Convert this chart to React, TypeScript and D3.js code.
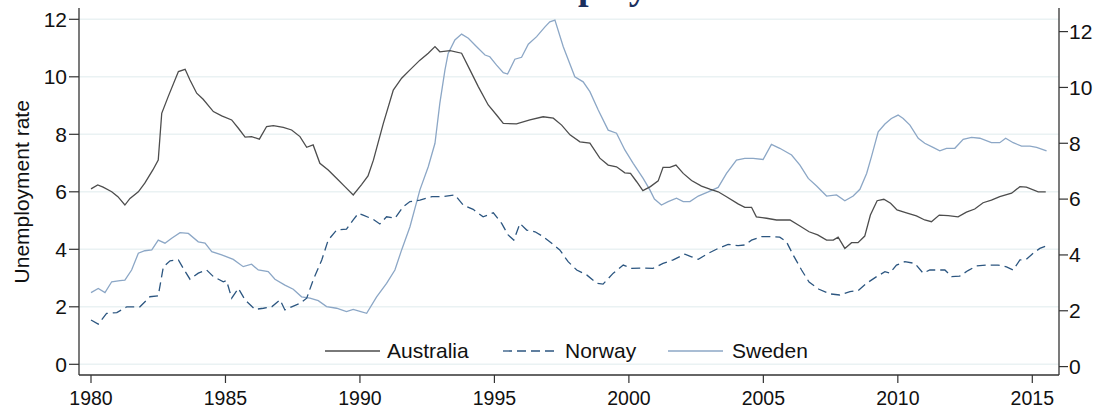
import React from "react";
import * as d3 from "d3";

// [year, unemployment rate]
const australia: [number, number][] = [
  [1980.0, 6.1], [1980.25, 6.24], [1980.45, 6.16], [1980.77, 6.0], [1981.0, 5.83], [1981.26, 5.54],
  [1981.45, 5.77], [1981.76, 6.0], [1982.0, 6.3], [1982.3, 6.76], [1982.5, 7.1], [1982.63, 8.73],
  [1982.87, 9.31], [1983.25, 10.18], [1983.5, 10.26], [1983.68, 9.89], [1983.93, 9.43], [1984.17, 9.22],
  [1984.55, 8.79], [1984.86, 8.64], [1985.23, 8.5], [1985.48, 8.21], [1985.73, 7.9], [1985.97, 7.92],
  [1986.26, 7.83], [1986.53, 8.27], [1986.78, 8.3], [1987.15, 8.24], [1987.46, 8.15], [1987.77, 7.92],
  [1988.02, 7.55], [1988.26, 7.63], [1988.51, 6.99], [1988.82, 6.76], [1989.13, 6.47], [1989.44, 6.18],
  [1989.75, 5.89], [1990.06, 6.25], [1990.3, 6.55], [1990.5, 7.1], [1990.87, 8.38], [1991.24, 9.54],
  [1991.55, 9.95], [1991.86, 10.24], [1992.23, 10.58], [1992.54, 10.82], [1992.79, 11.05], [1992.97, 10.87],
  [1993.35, 10.91], [1993.78, 10.82], [1994.09, 10.24], [1994.4, 9.66], [1994.77, 9.02], [1995.08, 8.67],
  [1995.33, 8.38], [1995.82, 8.36], [1996.32, 8.5], [1996.81, 8.61], [1997.19, 8.56], [1997.5, 8.32],
  [1997.81, 7.98], [1998.18, 7.74], [1998.55, 7.69], [1998.92, 7.17], [1999.23, 6.93], [1999.54, 6.87],
  [1999.85, 6.66], [2000.06, 6.64], [2000.29, 6.35], [2000.52, 6.04], [2000.8, 6.18], [2001.09, 6.38],
  [2001.27, 6.85], [2001.52, 6.85], [2001.75, 6.93], [2002.02, 6.64], [2002.33, 6.39], [2002.7, 6.2],
  [2003.01, 6.09], [2003.32, 6.0], [2003.63, 5.83], [2004.06, 5.58], [2004.31, 5.46], [2004.56, 5.46],
  [2004.74, 5.13], [2005.12, 5.08], [2005.49, 5.02], [2005.99, 5.02], [2006.36, 4.81], [2006.7, 4.61],
  [2007.02, 4.5], [2007.35, 4.32], [2007.6, 4.32], [2007.78, 4.42], [2008.03, 4.03], [2008.28, 4.23],
  [2008.52, 4.23], [2008.77, 4.46], [2008.98, 5.19], [2009.23, 5.69], [2009.48, 5.74], [2009.73, 5.6],
  [2009.97, 5.37], [2010.32, 5.27], [2010.69, 5.16], [2011.0, 5.02], [2011.25, 4.96], [2011.54, 5.19],
  [2011.87, 5.17], [2012.24, 5.13], [2012.55, 5.29], [2012.86, 5.4], [2013.17, 5.62], [2013.48, 5.71],
  [2013.79, 5.83], [2014.23, 5.95], [2014.54, 6.18], [2014.78, 6.16], [2015.22, 6.0], [2015.5, 6.0],
];

const norway: [number, number][] = [
  [1980.0, 1.54], [1980.27, 1.4], [1980.58, 1.77], [1980.96, 1.8], [1981.33, 2.0], [1981.82, 2.0],
  [1982.19, 2.35], [1982.5, 2.38], [1982.69, 3.39], [1982.94, 3.6], [1983.25, 3.63], [1983.43, 3.34],
  [1983.68, 2.96], [1983.99, 3.17], [1984.3, 3.28], [1984.55, 3.05], [1984.92, 2.87], [1985.04, 2.91],
  [1985.23, 2.3], [1985.48, 2.64], [1985.73, 2.24], [1986.1, 1.91], [1986.41, 1.95], [1986.72, 2.0],
  [1987.03, 2.24], [1987.21, 1.89], [1987.46, 2.0], [1987.77, 2.12], [1988.02, 2.3], [1988.26, 2.93],
  [1988.58, 3.63], [1988.82, 4.32], [1989.13, 4.67], [1989.5, 4.7], [1989.75, 5.02], [1989.94, 5.25],
  [1990.12, 5.19], [1990.5, 5.04], [1990.74, 4.88], [1990.99, 5.13], [1991.3, 5.08], [1991.61, 5.48],
  [1991.86, 5.66], [1992.23, 5.71], [1992.67, 5.83], [1993.04, 5.83], [1993.53, 5.89], [1993.84, 5.54],
  [1994.21, 5.39], [1994.58, 5.13], [1994.96, 5.27], [1995.27, 4.9], [1995.51, 4.5], [1995.72, 4.32],
  [1995.95, 4.9], [1996.2, 4.67], [1996.51, 4.61], [1996.81, 4.44], [1997.13, 4.21], [1997.43, 3.98],
  [1997.74, 3.57], [1998.06, 3.28], [1998.43, 3.11], [1998.8, 2.82], [1999.04, 2.79], [1999.42, 3.17],
  [1999.79, 3.45], [2000.1, 3.34], [2000.53, 3.35], [2000.9, 3.34], [2001.27, 3.51], [2001.65, 3.63],
  [2002.08, 3.83], [2002.33, 3.74], [2002.58, 3.65], [2002.95, 3.86], [2003.32, 4.03], [2003.69, 4.17],
  [2004.06, 4.13], [2004.31, 4.15], [2004.56, 4.32], [2004.93, 4.44], [2005.3, 4.44], [2005.61, 4.42],
  [2005.86, 4.26], [2006.11, 3.8], [2006.42, 3.28], [2006.7, 2.86], [2007.07, 2.61], [2007.47, 2.45],
  [2007.84, 2.41], [2008.22, 2.53], [2008.52, 2.56], [2008.84, 2.82], [2009.21, 3.05], [2009.52, 3.22],
  [2009.7, 3.17], [2009.95, 3.45], [2010.26, 3.57], [2010.63, 3.51], [2010.94, 3.17], [2011.19, 3.28],
  [2011.44, 3.28], [2011.75, 3.28], [2012.0, 3.05], [2012.3, 3.07], [2012.61, 3.26], [2012.93, 3.42],
  [2013.3, 3.45], [2013.73, 3.45], [2014.04, 3.39], [2014.29, 3.28], [2014.54, 3.63], [2014.78, 3.65],
  [2015.03, 3.86], [2015.28, 4.03], [2015.5, 4.11],
];

// Sweden is plotted against the right-hand axis
const sweden: [number, number][] = [
  [1980.0, 2.65], [1980.27, 2.8], [1980.52, 2.65], [1980.77, 3.04], [1981.08, 3.08], [1981.26, 3.1],
  [1981.51, 3.46], [1981.76, 4.06], [1982.0, 4.15], [1982.26, 4.18], [1982.5, 4.53], [1982.75, 4.42],
  [1983.0, 4.6], [1983.31, 4.8], [1983.62, 4.77], [1983.99, 4.47], [1984.24, 4.42], [1984.49, 4.12],
  [1984.86, 4.0], [1985.29, 3.84], [1985.66, 3.58], [1985.97, 3.67], [1986.22, 3.46], [1986.59, 3.4],
  [1986.84, 3.13], [1987.21, 2.92], [1987.52, 2.77], [1987.83, 2.5], [1988.14, 2.45], [1988.45, 2.36],
  [1988.76, 2.15], [1989.13, 2.09], [1989.5, 1.97], [1989.75, 2.05], [1990.0, 1.98], [1990.25, 1.91],
  [1990.62, 2.5], [1990.99, 2.98], [1991.3, 3.46], [1991.55, 4.18], [1991.86, 5.01], [1992.23, 6.33],
  [1992.54, 7.16], [1992.79, 8.0], [1992.97, 9.43], [1993.16, 10.62], [1993.28, 11.22], [1993.53, 11.7],
  [1993.78, 11.91], [1994.03, 11.76], [1994.34, 11.46], [1994.65, 11.16], [1994.83, 11.1], [1995.08, 10.8],
  [1995.33, 10.53], [1995.49, 10.48], [1995.76, 11.01], [1996.01, 11.08], [1996.26, 11.55], [1996.57, 11.82],
  [1996.88, 12.17], [1997.06, 12.35], [1997.25, 12.41], [1997.56, 11.46], [1997.99, 10.38], [1998.3, 10.2],
  [1998.55, 9.85], [1998.86, 9.19], [1999.23, 8.47], [1999.54, 8.36], [1999.85, 7.76], [2000.16, 7.28],
  [2000.53, 6.74], [2000.78, 6.33], [2000.95, 6.0], [2001.21, 5.79], [2001.46, 5.91], [2001.77, 6.03],
  [2002.02, 5.91], [2002.27, 5.91], [2002.58, 6.11], [2002.95, 6.26], [2003.32, 6.42], [2003.63, 6.92],
  [2004.0, 7.4], [2004.31, 7.46], [2004.62, 7.46], [2004.99, 7.42], [2005.3, 7.96], [2005.61, 7.82],
  [2006.05, 7.58], [2006.36, 7.22], [2006.67, 6.74], [2006.98, 6.47], [2007.35, 6.11], [2007.72, 6.15],
  [2008.03, 5.94], [2008.34, 6.11], [2008.59, 6.35], [2008.84, 6.92], [2009.02, 7.52], [2009.27, 8.41],
  [2009.52, 8.69], [2009.76, 8.89], [2010.01, 9.01], [2010.2, 8.89], [2010.45, 8.65], [2010.76, 8.18],
  [2011.0, 8.0], [2011.31, 7.85], [2011.56, 7.73], [2011.81, 7.82], [2012.12, 7.82], [2012.43, 8.14],
  [2012.74, 8.21], [2013.05, 8.18], [2013.48, 8.02], [2013.79, 8.02], [2014.01, 8.18], [2014.29, 8.02],
  [2014.6, 7.9], [2014.91, 7.9], [2015.16, 7.85], [2015.53, 7.73],
];

const xTicks = [1980, 1985, 1990, 1995, 2000, 2005, 2010, 2015];
const yTicks = [0, 2, 4, 6, 8, 10, 12];
const legendLabels = ["Australia", "Norway", "Sweden"];

const W = 1100;
const H = 408;
const plot = { left: 79, right: 1059, top: 8, bottom: 375 };

const x = d3.scaleLinear().domain([1980, 2015]).range([91, 1032.3]);
const yL = d3.scaleLinear().domain([0, 12]).range([364.3, 19.3]);
const yR = d3.scaleLinear().domain([0, 12]).range([366.6, 31.6]);

const lineL = d3.line<[number, number]>().x((d) => x(d[0])).y((d) => yL(d[1]));
const lineR = d3.line<[number, number]>().x((d) => x(d[0])).y((d) => yR(d[1]));

const colors = { aus: "#4d4d4d", nor: "#2c5680", swe: "#8ca7c6" };
const FONT = "'Liberation Sans', Arial, Helvetica, sans-serif";

export default function App() {
  const legend = [
    { label: legendLabels[0], color: colors.aus, dash: undefined, x0: 325, tx: 387 },
    { label: legendLabels[1], color: colors.nor, dash: "9,5", x0: 503, tx: 565 },
    { label: legendLabels[2], color: colors.swe, dash: undefined, x0: 668, tx: 732 },
  ];
  return (
    <div style={{ position: "absolute", left: 0, top: 0 }}>
      <svg width={W} height={H} style={{ display: "block", background: "#fff" }}>
        {/* title (cut off at the top in the original) */}
        <text x={481} y={-1} fontFamily="'Liberation Serif', 'Times New Roman', serif" fontWeight="bold"
          fontSize={38} fill="#1b2f5e">Unemployment</text>

        {/* gridlines */}
        {yTicks.map((t) => (
          <line key={"g" + t} x1={plot.left} x2={plot.right} y1={yL(t)} y2={yL(t)} stroke="#eaf2f3" strokeWidth={1.6} />
        ))}

        {/* series */}
        <path d={lineR(sweden) || ""} fill="none" stroke={colors.swe} strokeWidth={1.3} />
        <path d={lineL(norway) || ""} fill="none" stroke={colors.nor} strokeWidth={1.3} strokeDasharray="9,5" />
        <path d={lineL(australia) || ""} fill="none" stroke={colors.aus} strokeWidth={1.3} />

        {/* axes */}
        <line x1={plot.left} x2={plot.left} y1={plot.top} y2={plot.bottom} stroke="#333" strokeWidth={1.3} />
        <line x1={plot.right} x2={plot.right} y1={plot.top} y2={plot.bottom} stroke="#333" strokeWidth={1.3} />
        <line x1={plot.left} x2={plot.right} y1={plot.bottom} y2={plot.bottom} stroke="#333" strokeWidth={1.3} />

        {yTicks.map((t) => (
          <g key={"l" + t}>
            <line x1={plot.left - 10} x2={plot.left} y1={yL(t)} y2={yL(t)} stroke="#333" strokeWidth={1.2} />
            <text x={67} y={yL(t)} dy="0.35em" textAnchor="end" fontFamily={FONT} fontSize={21} fill="#111">{t}</text>
          </g>
        ))}
        {yTicks.map((t) => (
          <g key={"r" + t}>
            <line x1={plot.right} x2={plot.right + 9} y1={yR(t)} y2={yR(t)} stroke="#333" strokeWidth={1.2} />
            <text x={1069} y={yR(t)} dy="0.35em" textAnchor="start" fontFamily={FONT} fontSize={21} fill="#111">{t}</text>
          </g>
        ))}
        {xTicks.map((t) => (
          <g key={"x" + t}>
            <line x1={x(t)} x2={x(t)} y1={plot.bottom} y2={plot.bottom + 8} stroke="#333" strokeWidth={1.2} />
            <text x={x(t)} y={405} textAnchor="middle" fontFamily={FONT} fontSize={19.5} fill="#111">{t}</text>
          </g>
        ))}

        <text transform={`translate(29,${(yL(0) + yL(12)) / 2}) rotate(-90)`} textAnchor="middle"
          fontFamily={FONT} fontSize={21} fill="#111">Unemployment rate</text>

        {/* legend */}
        {legend.map((l) => (
          <g key={l.label}>
            <line x1={l.x0} x2={l.x0 + 55} y1={351} y2={351} stroke={l.color} strokeWidth={1.3} strokeDasharray={l.dash} />
            <text x={l.tx} y={351} dy="0.35em" fontFamily={FONT} fontSize={21} fill="#111">{l.label}</text>
          </g>
        ))}
      </svg>
    </div>
  );
}
